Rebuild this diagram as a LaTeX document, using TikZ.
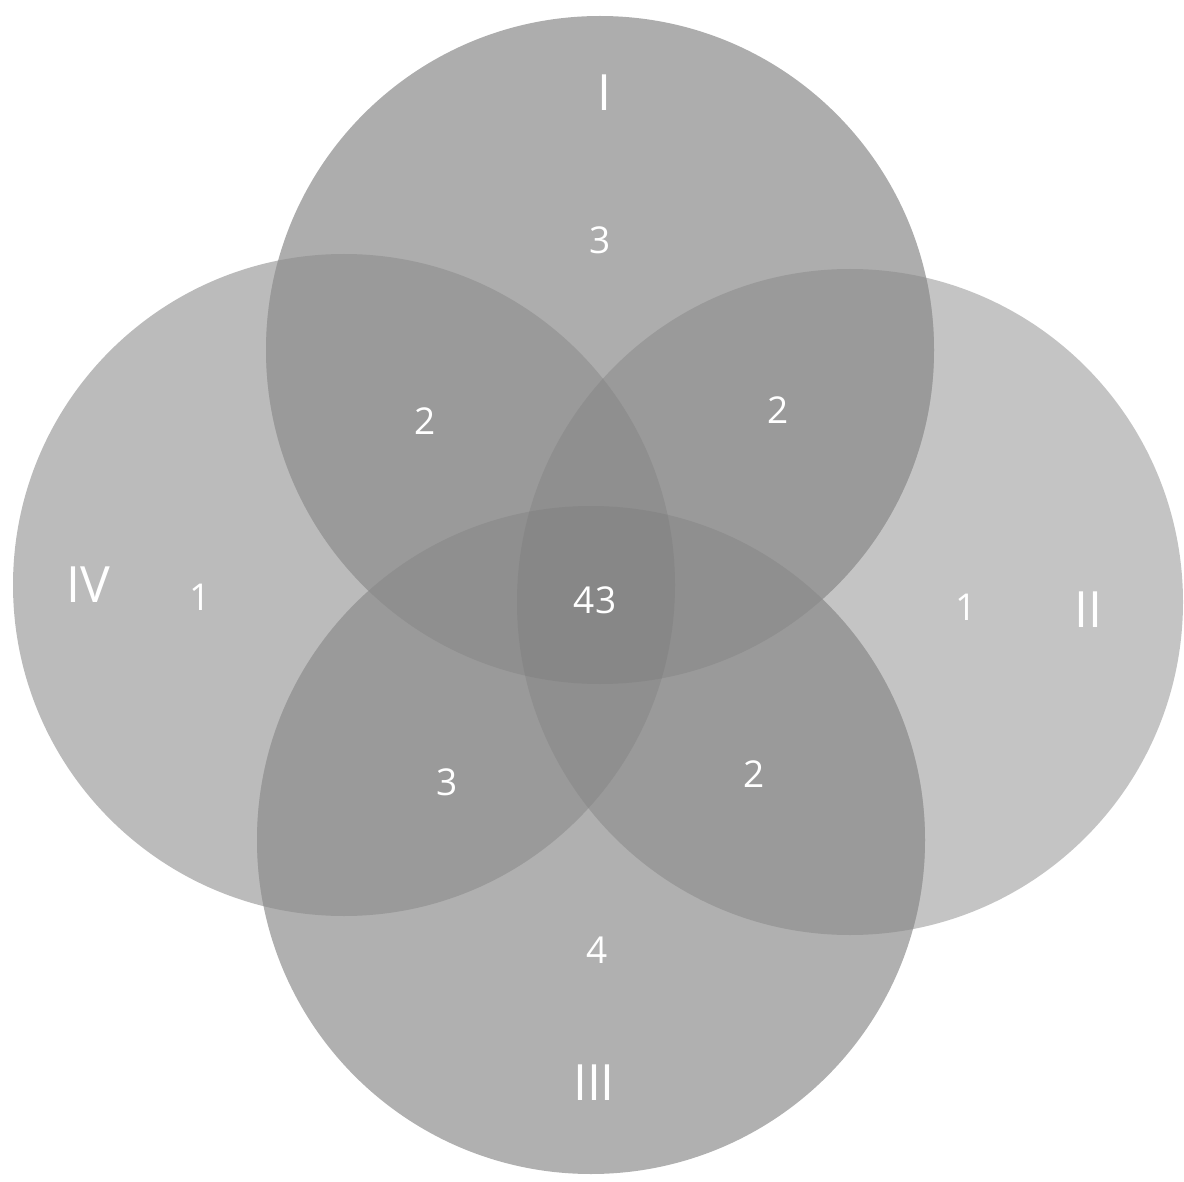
\documentclass[tikz,border=0pt]{standalone}
\usepackage{fontspec}
\setmainfont{Open Sans}
\definecolor{sI}{HTML}{ADADAD}
\definecolor{sII}{HTML}{C4C4C4}
\definecolor{sIII}{HTML}{B0B0B0}
\definecolor{sIV}{HTML}{BBBBBB}
\definecolor{dbl}{HTML}{9A9A9A}
\definecolor{trp}{HTML}{8F8F8F}
\definecolor{qud}{HTML}{878787}
\tikzset{
  roman/.style={text=white, font=\fontsize{50}{60}\selectfont, inner sep=0pt},
  count/.style={text=white, font=\fontsize{37}{44}\selectfont, inner sep=0pt},
}
\newcommand{\rI}{334}
\newcommand{\rII}{333}
\newcommand{\rIII}{334}
\newcommand{\rIV}{331}
\begin{document}
\begin{tikzpicture}[x=1pt,y=-1pt]
\useasboundingbox (0,0) rectangle (1184,1182);
\coordinate (cI) at (600,350);
\coordinate (cII) at (850,602);
\coordinate (cIII) at (591,840);
\coordinate (cIV) at (344,585);
% single circles
\fill[sIV] (cIV) circle[radius=\rIV];
\fill[sII] (cII) circle[radius=\rII];
\fill[sI] (cI) circle[radius=\rI];
\fill[sIII] (cIII) circle[radius=\rIII];
% pairwise intersections
\begin{scope}\clip (cI) circle[radius=\rI]; \fill[dbl] (cII) circle[radius=\rII]; \end{scope}
\begin{scope}\clip (cI) circle[radius=\rI]; \fill[dbl] (cIII) circle[radius=\rIII]; \end{scope}
\begin{scope}\clip (cI) circle[radius=\rI]; \fill[dbl] (cIV) circle[radius=\rIV]; \end{scope}
\begin{scope}\clip (cII) circle[radius=\rII]; \fill[dbl] (cIII) circle[radius=\rIII]; \end{scope}
\begin{scope}\clip (cII) circle[radius=\rII]; \fill[dbl] (cIV) circle[radius=\rIV]; \end{scope}
\begin{scope}\clip (cIII) circle[radius=\rIII]; \fill[dbl] (cIV) circle[radius=\rIV]; \end{scope}
% triple intersections
\begin{scope}\clip (cI) circle[radius=\rI]; \clip (cII) circle[radius=\rII]; \fill[trp] (cIII) circle[radius=\rIII]; \end{scope}
\begin{scope}\clip (cI) circle[radius=\rI]; \clip (cII) circle[radius=\rII]; \fill[trp] (cIV) circle[radius=\rIV]; \end{scope}
\begin{scope}\clip (cI) circle[radius=\rI]; \clip (cIII) circle[radius=\rIII]; \fill[trp] (cIV) circle[radius=\rIV]; \end{scope}
\begin{scope}\clip (cII) circle[radius=\rII]; \clip (cIII) circle[radius=\rIII]; \fill[trp] (cIV) circle[radius=\rIV]; \end{scope}
% quadruple intersection
\begin{scope}\clip (cI) circle[radius=\rI]; \clip (cII) circle[radius=\rII]; \clip (cIII) circle[radius=\rIII]; \fill[qud] (cIV) circle[radius=\rIV]; \end{scope}
% labels
\node[roman] (lI) at (604,93) {I};
\node[roman] (lII) at (1088,610) {II};
\node[roman] (lIII) at (594,1083) {III};
\node[roman] (lIV) at (88,585) {IV};
\node[count] (nI) at (600,240) {3};
\node[count] (nIIV) at (425,421) {2};
\node[count] (nIII) at (778,410) {2};
\node[count] (nIVo) at (200,597) {1};
\node[count] (nall) at (595,600) {43};
\node[count] (nIIo) at (966,607) {1};
\node[count] (nIIIIV) at (447,782) {3};
\node[count] (nIIIII) at (754,774) {2};
\node[count] (nIIIo) at (597,950) {4};
\end{tikzpicture}
\end{document}
